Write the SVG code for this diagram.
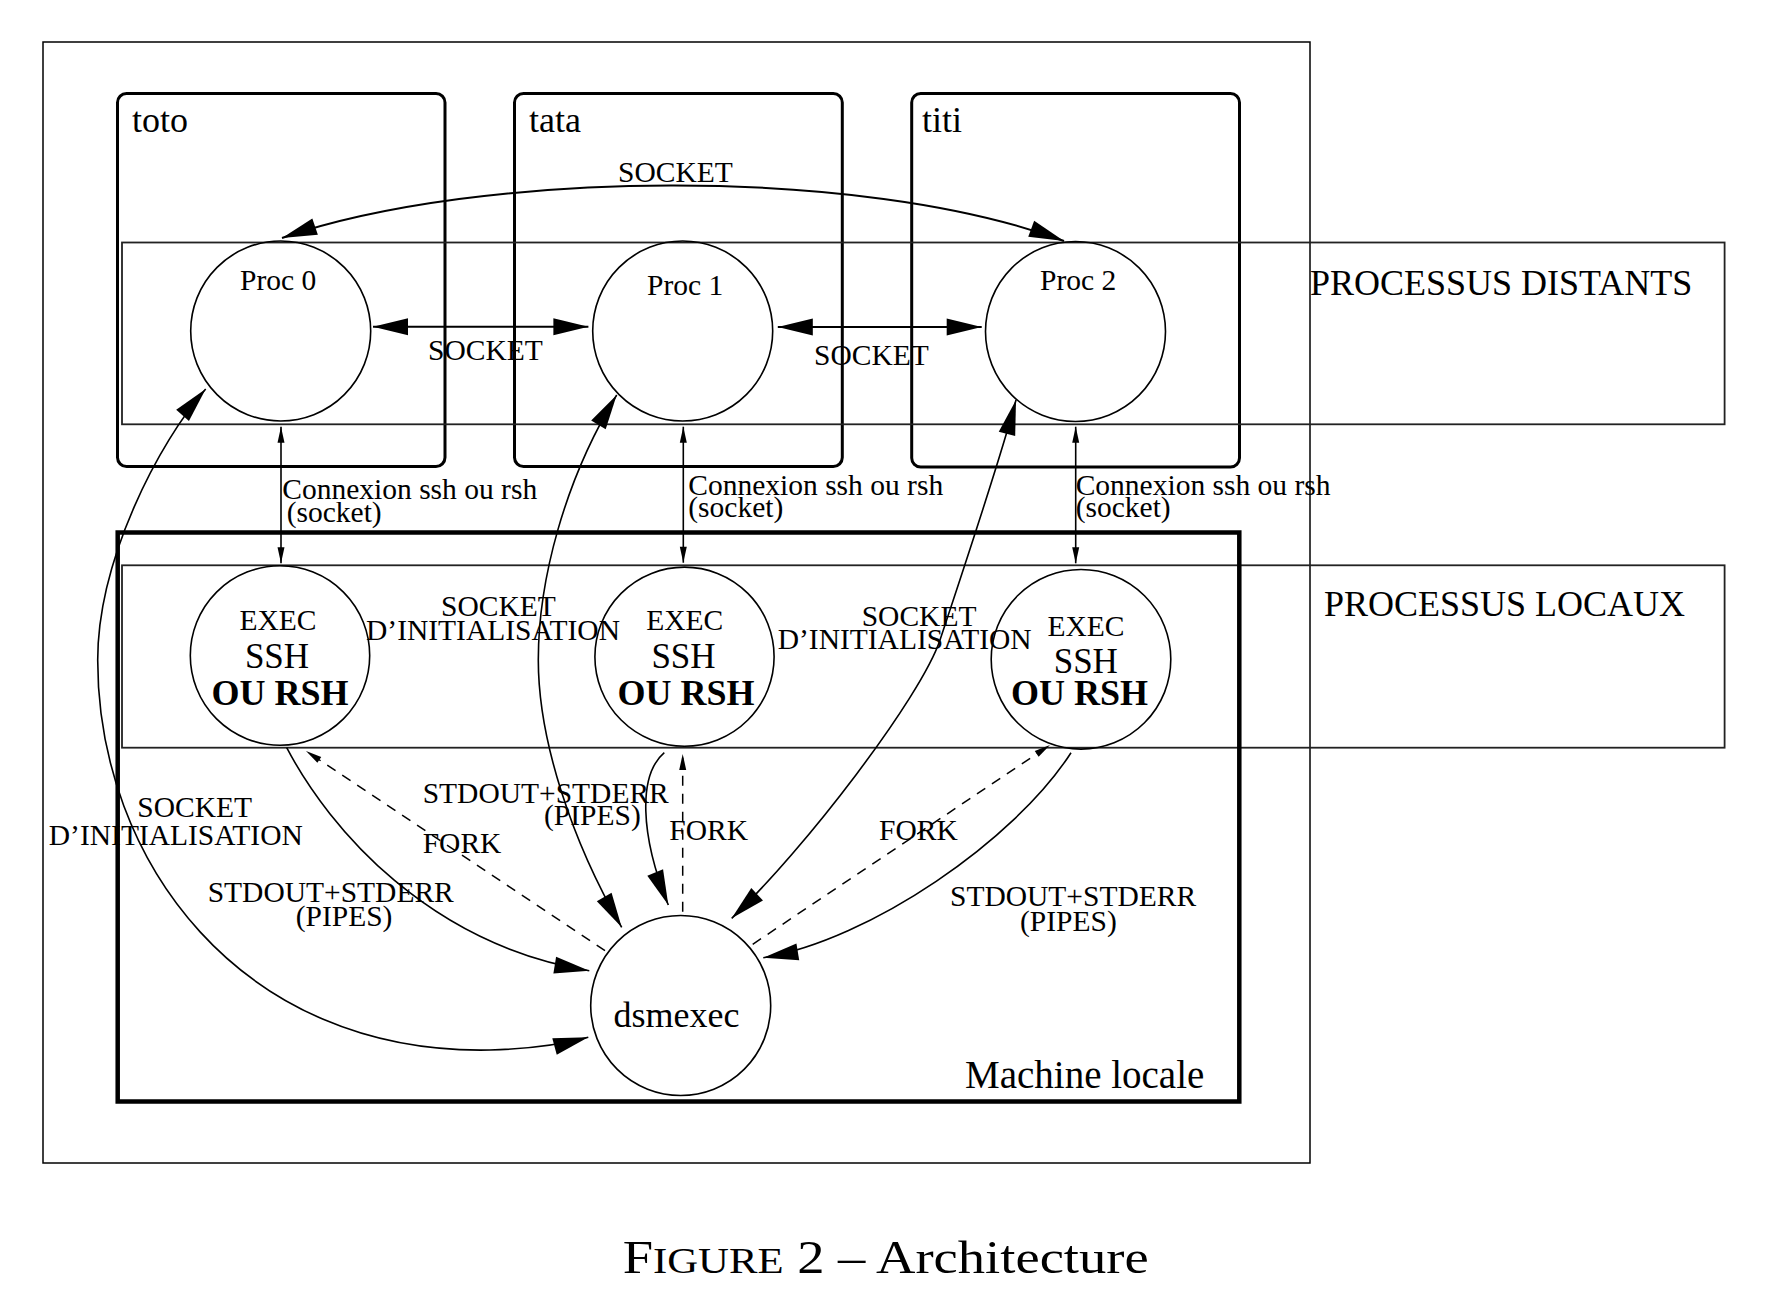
<svg xmlns="http://www.w3.org/2000/svg" width="1766" height="1293" viewBox="0 0 1766 1293">
  <style>
    .t { font-family: "Liberation Serif", "Times New Roman", serif; fill: #000; }
    .s { font-size: 29.5px; }
    .l { font-size: 36px; }
    .b { font-weight: bold; }
    .host { fill: none; stroke: #000; stroke-width: 3; }
    .band { fill: none; stroke: #222; stroke-width: 1.8; }
    .proc { fill: none; stroke: #000; stroke-width: 1.6; }
    .wire { fill: none; stroke: #000; stroke-width: 1.6; }
    .wire2 { fill: none; stroke: #000; stroke-width: 2; }
    .dash { fill: none; stroke: #000; stroke-width: 1.5; stroke-dasharray: 10 8; }
  </style>
  <defs>
    <marker id="big" markerUnits="userSpaceOnUse" markerWidth="36" markerHeight="18" refX="35" refY="8.5" orient="auto-start-reverse" overflow="visible">
      <path d="M0,0 L35,8.5 L0,17 z" fill="#000"/>
    </marker>
    <marker id="small" markerUnits="userSpaceOnUse" markerWidth="17" markerHeight="8" refX="16" refY="3.5" orient="auto-start-reverse" overflow="visible">
      <path d="M0,0 L16,3.5 L0,7 z" fill="#000"/>
    </marker>
  </defs>

  <rect x="0" y="0" width="1766" height="1293" fill="#fff"/>

  <!-- outer frame -->
  <g id="frame">
    <rect x="43" y="42" width="1267" height="1121" fill="none" stroke="#000" stroke-width="1.5"/>
  </g>

  <!-- remote hosts -->
  <g id="host-toto">
    <rect class="host" x="117.5" y="93.5" width="327.5" height="373" rx="9"/>
    <text class="t l" x="132" y="131.7">toto</text>
  </g>
  <g id="host-tata">
    <rect class="host" x="514.5" y="93.5" width="327.8" height="373" rx="9"/>
    <text class="t l" x="529" y="131.7">tata</text>
  </g>
  <g id="host-titi">
    <rect class="host" x="911.7" y="93.5" width="327.8" height="373.5" rx="9"/>
    <text class="t l" x="922" y="131.7">titi</text>
  </g>

  <!-- process bands -->
  <g id="band-distants">
    <rect class="band" x="122" y="242.5" width="1602.6" height="181.8"/>
    <text class="t l" x="1310" y="294.5">PROCESSUS DISTANTS</text>
  </g>
  <g id="band-locaux">
    <rect class="band" x="122" y="565.3" width="1602.6" height="182.4"/>
    <text class="t l" x="1324" y="615.5">PROCESSUS LOCAUX</text>
  </g>

  <!-- local machine -->
  <g id="machine-locale">
    <rect x="117.7" y="532.5" width="1121.6" height="569" fill="none" stroke="#000" stroke-width="4.5"/>
    <text class="t" font-size="39" x="965" y="1088">Machine locale</text>
  </g>

  <!-- remote processes -->
  <g id="proc0">
    <circle class="proc" cx="280.7" cy="331" r="90"/>
    <text class="t s" x="240" y="290">Proc 0</text>
  </g>
  <g id="proc1">
    <circle class="proc" cx="682.7" cy="331" r="90"/>
    <text class="t s" x="647" y="295">Proc 1</text>
  </g>
  <g id="proc2">
    <circle class="proc" cx="1075.5" cy="331.5" r="90"/>
    <text class="t s" x="1040" y="290">Proc 2</text>
  </g>

  <!-- local ssh/rsh launchers -->
  <g id="exec0">
    <circle class="proc" cx="280" cy="655.5" r="89.7"/>
    <text class="t s" x="278" y="630" text-anchor="middle">EXEC</text>
    <text class="t" font-size="35" x="277" y="667.7" text-anchor="middle">SSH</text>
    <text class="t l b" x="280" y="705" text-anchor="middle">OU RSH</text>
  </g>
  <g id="exec1">
    <circle class="proc" cx="684.5" cy="656.7" r="89.6"/>
    <text class="t s" x="684.7" y="630" text-anchor="middle">EXEC</text>
    <text class="t" font-size="35" x="683.5" y="667.7" text-anchor="middle">SSH</text>
    <text class="t l b" x="686" y="704.5" text-anchor="middle">OU RSH</text>
  </g>
  <g id="exec2">
    <circle class="proc" cx="1081" cy="659.3" r="89.8"/>
    <text class="t s" x="1086" y="635.7" text-anchor="middle">EXEC</text>
    <text class="t" font-size="35" x="1085.8" y="672.7" text-anchor="middle">SSH</text>
    <text class="t l b" x="1079.5" y="704.5" text-anchor="middle">OU RSH</text>
  </g>

  <!-- launcher -->
  <g id="dsmexec">
    <circle class="proc" cx="680.7" cy="1005.5" r="90"/>
    <text class="t l" x="613.5" y="1026.7">dsmexec</text>
  </g>

  <!-- connectors -->
  <g id="connectors">
    <!-- sockets between remote processes -->
    <path class="wire2" d="M282,238 C480,170 860,165 1064,241" marker-start="url(#big)" marker-end="url(#big)"/>
    <path class="wire2" d="M373,326.7 L588.4,326.7" marker-start="url(#big)" marker-end="url(#big)"/>
    <path class="wire2" d="M777.8,327 L981.7,327" marker-start="url(#big)" marker-end="url(#big)"/>

    <!-- ssh/rsh connections -->
    <path class="wire" d="M281,426.7 L281,563.3" marker-start="url(#small)" marker-end="url(#small)"/>
    <path class="wire" d="M683.3,426.7 L683.3,562.7" marker-start="url(#small)" marker-end="url(#small)"/>
    <path class="wire" d="M1075.7,426.7 L1075.7,563.3" marker-start="url(#small)" marker-end="url(#small)"/>

    <!-- initialisation sockets -->
    <path class="wire" d="M205.7,389 C159,442 97.7,560 97.7,660 C97.7,860 240,1055 490,1050 C530,1049 560,1045 588.3,1037.3" marker-start="url(#big)" marker-end="url(#big)"/>
    <path class="wire" d="M616.7,395 C564.7,480 538.3,580 538.3,660 C538.3,740 571.7,840.7 621.7,927.3" marker-start="url(#big)" marker-end="url(#big)"/>
    <path class="wire" d="M1016,400 C1000,460 960,580 940,640 C921,697 804.7,849.3 731.7,918.3" marker-start="url(#big)" marker-end="url(#big)"/>

    <!-- stdout/stderr pipes -->
    <path class="wire" d="M286.7,747.7 C330,830 430,945 589.3,970.7" marker-end="url(#big)"/>
    <path class="wire" d="M664.3,752.7 C638,775 640,835 668.3,905" marker-end="url(#big)"/>
    <path class="wire" d="M1071,752.7 C1015,840 870,940 763.3,957.7" marker-end="url(#big)"/>

    <!-- forks -->
    <path class="dash" d="M605,950.7 L306,751" marker-end="url(#small)"/>
    <path class="dash" d="M682.7,911.7 L682.7,754" marker-end="url(#small)"/>
    <path class="dash" d="M752.7,944.3 L1050,745" marker-end="url(#small)"/>
  </g>

  <!-- connector labels -->
  <g id="labels">
    <text class="t s" x="618" y="182">SOCKET</text>
    <text class="t s" x="428" y="360">SOCKET</text>
    <text class="t s" x="814" y="365">SOCKET</text>

    <text class="t s" x="282.3" y="499.3">Connexion ssh ou rsh</text>
    <text class="t s" x="286.7" y="521.7">(socket)</text>
    <text class="t s" x="688.3" y="495">Connexion ssh ou rsh</text>
    <text class="t s" x="688.3" y="516.7">(socket)</text>
    <text class="t s" x="1075.7" y="495">Connexion ssh ou rsh</text>
    <text class="t s" x="1075.7" y="516.7">(socket)</text>

    <text class="t s" x="441" y="615.5">SOCKET</text>
    <text class="t s" x="366" y="639.5">D’INITIALISATION</text>
    <text class="t s" x="861.7" y="625.5">SOCKET</text>
    <text class="t s" x="777.7" y="649">D’INITIALISATION</text>
    <text class="t s" x="137.3" y="816.7">SOCKET</text>
    <text class="t s" x="48.8" y="845">D’INITIALISATION</text>

    <text class="t s" x="422.7" y="803">STDOUT+STDERR</text>
    <text class="t s" x="544" y="825">(PIPES)</text>
    <text class="t s" x="207.7" y="901.7">STDOUT+STDERR</text>
    <text class="t s" x="295.7" y="926">(PIPES)</text>
    <text class="t s" x="950" y="906">STDOUT+STDERR</text>
    <text class="t s" x="1020" y="931">(PIPES)</text>

    <text class="t s" x="422.7" y="853">FORK</text>
    <text class="t s" x="669.3" y="840">FORK</text>
    <text class="t s" x="879" y="840">FORK</text>
  </g>

  <!-- caption -->
  <g id="caption">
    <text class="t" font-size="46" x="622.7" y="1273.3" textLength="526" lengthAdjust="spacingAndGlyphs">F<tspan font-size="36">IGURE</tspan> 2 – Architecture</text>
  </g>
</svg>
